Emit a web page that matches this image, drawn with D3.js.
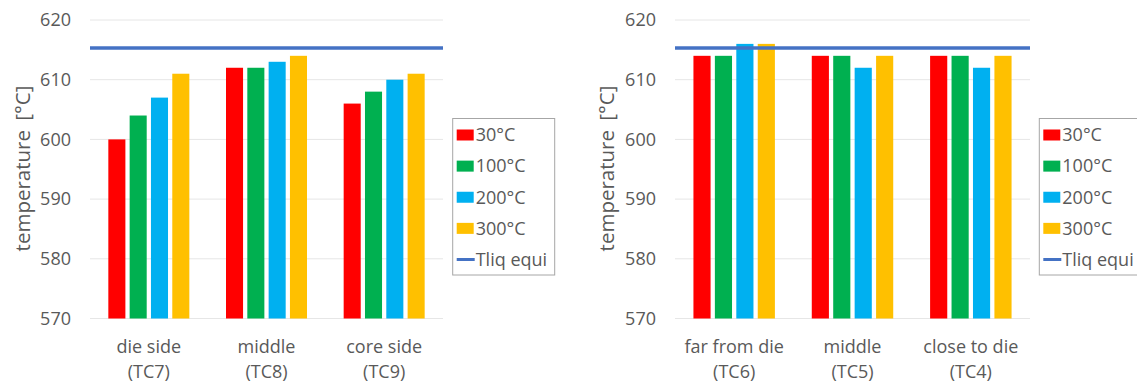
<!DOCTYPE html>
<html><head><meta charset="utf-8">
<script src="https://cdn.jsdelivr.net/npm/d3@7"></script>
<style>body{margin:0;background:#fff}text{font-family:"Open Sans",sans-serif;fill:#595959}</style>
</head><body><svg id="c" width="1137" height="382"></svg>
<script>
const series = ["30°C","100°C","200°C","300°C"];
const colors = ["#FF0000","#00B050","#00B0F0","#FFC000"];
const leftCats = [["die side","(TC7)"],["middle","(TC8)"],["core side","(TC9)"]];
const leftVals = [[600,604,607,611],[612,612,613,614],[606,608,610,611]];
const rightCats = [["far from die","(TC6)"],["middle","(TC5)"],["close to die","(TC4)"]];
const rightVals = [[614,614,616,616],[614,614,612,614],[614,614,612,614]];
const tliq = 615.3;
const yTicks = [570,580,590,600,610,620];
const lineLabel = "Tliq equi";
const yTitle = "temperature [°C]";

const svg = d3.select("#c");
function panel(cats, vals, x0, x1, titleX, legX) {
  const g = svg.append("g");
  const y = d3.scaleLinear().domain([570,620]).range([318.5,20]);
  const x = d3.scaleBand().domain(d3.range(cats.length)).range([x0,x1]);
  const xi = d3.scaleBand().domain(d3.range(series.length)).range([0,x.bandwidth()]).paddingInner(0.2).paddingOuter(0.86);
  g.selectAll(".grid").data(yTicks).join("line").attr("x1",x0).attr("x2",x1)
    .attr("y1",d=>y(d)).attr("y2",d=>y(d)).attr("stroke","#e6e6e6").attr("stroke-width",1);
  g.selectAll(".tl").data(yTicks).join("text").attr("x",x0-19).attr("y",d=>y(d)).attr("dy","0.35em")
    .attr("text-anchor","end").attr("font-size",18).text(d=>d);
  g.append("text").attr("transform",`translate(${titleX},168.5) rotate(-90)`).attr("text-anchor","middle")
    .attr("font-size",20.5).attr("word-spacing",4).text(yTitle);
  cats.forEach((c,i)=>{
    g.selectAll(null).data(vals[i]).join("rect")
      .attr("x",(d,j)=>x(i)+xi(j)).attr("width",xi.bandwidth())
      .attr("y",d=>y(d)).attr("height",d=>y(570)-y(d)).attr("fill",(d,j)=>colors[j]);
    const t = g.append("text").attr("text-anchor","middle").attr("font-size",18);
    t.append("tspan").attr("x",x(i)+x.bandwidth()/2).attr("y",353).text(c[0]);
    t.append("tspan").attr("x",x(i)+x.bandwidth()/2).attr("y",378).text(c[1]);
  });
  g.append("line").attr("x1",x0).attr("x2",x1).attr("y1",y(tliq)).attr("y2",y(tliq))
    .attr("stroke","#4472C4").attr("stroke-width",3.5);
  // legend
  const lg = g.append("g");
  lg.append("rect").attr("x",legX).attr("y",118.5).attr("width",102).attr("height",156.5)
    .attr("fill","#fff").attr("stroke","#a6a6a6").attr("stroke-width",1);
  const ly = d3.scaleLinear().domain([0,4]).range([135,259.5]);
  series.forEach((s,j)=>{
    lg.append("rect").attr("x",legX+4).attr("y",ly(j)-5.5).attr("width",17).attr("height",11).attr("fill",colors[j]);
    lg.append("text").attr("x",legX+23).attr("y",ly(j)).attr("dy","0.35em").attr("font-size",18).text(s);
  });
  lg.append("line").attr("x1",legX+4).attr("x2",legX+22).attr("y1",ly(4)).attr("y2",ly(4))
    .attr("stroke","#4472C4").attr("stroke-width",3);
  lg.append("text").attr("x",legX+23).attr("y",ly(4)).attr("dy","0.35em").attr("font-size",18).text(lineLabel);
}
panel(leftCats,leftVals,90,443,29.5,452.7);
panel(rightCats,rightVals,675,1030,613.5,1039.3);
</script></body></html>
